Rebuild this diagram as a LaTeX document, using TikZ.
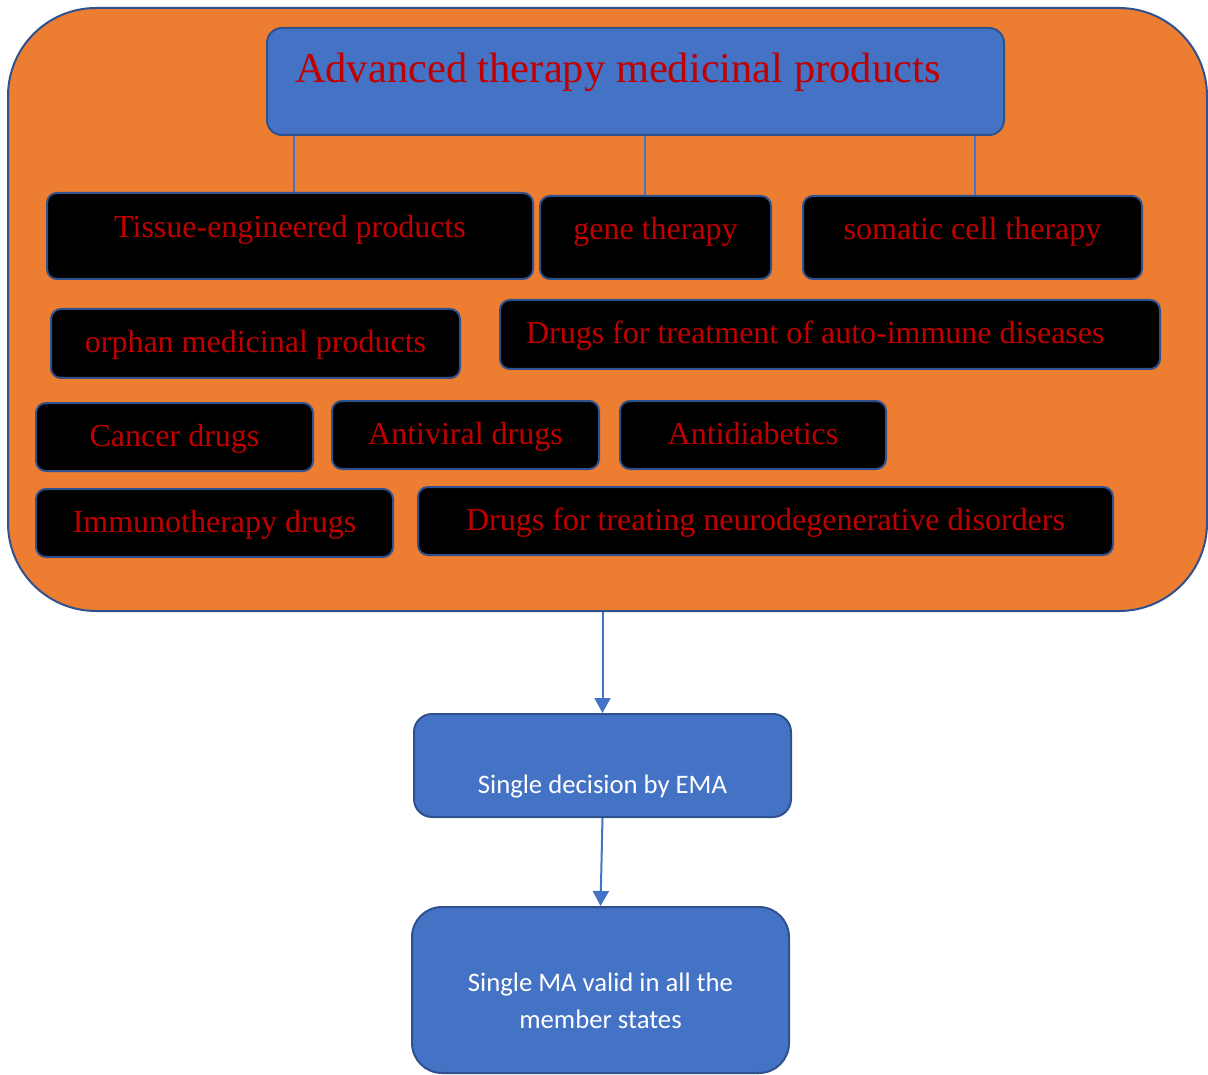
\documentclass[tikz,border=0pt]{standalone}
\usepackage{fontspec}
\setmainfont{Liberation Serif}
\newfontfamily\calibri{Carlito}
\usetikzlibrary{arrows.meta}
\definecolor{deeporange}{RGB}{237,125,49}
\definecolor{myblue}{RGB}{68,114,196}
\definecolor{darkblue}{RGB}{47,82,143}
\definecolor{darkred}{RGB}{192,0,0}
\tikzset{
  drugbox/.style={draw=darkblue,line width=2pt,fill=black,rounded corners=10pt,inner sep=0pt,
    text=darkred,font=\fontsize{32}{38}\selectfont,text height=24pt,text depth=6pt},
  toprow/.style={text height=20pt,text depth=16pt},
  flowbox/.style={draw=darkblue,line width=2pt,fill=myblue,inner sep=0pt,text=white,
    font=\calibri\fontsize{26.7}{37}\selectfont,align=center},
  tie/.style={myblue,line width=1.3pt},
  flow/.style={myblue,line width=2pt,-{Triangle[width=16pt,length=15pt]}}
}

\begin{document}
\begin{tikzpicture}[x=1pt,y=-1pt]
  \useasboundingbox (0,0) rectangle (1208,1075);
  % orange panel
  \node[draw=darkblue,line width=2pt,fill=deeporange,rounded corners=88pt,
    minimum width=1199pt,minimum height=603pt] (panel) at (607.5,309.5) {};
  \node[draw=darkblue,line width=2pt,fill=myblue,rounded corners=15pt,inner ysep=0pt,inner xsep=28pt,
    text=darkred,font=\fontsize{42.5}{50}\selectfont,
    text height=30pt,text depth=27pt,minimum height=107pt] (title) at (635.5,81.5)
    {\makebox[681pt][l]{Advanced therapy medicinal products}};
  % first row
  \node[drugbox,toprow,minimum width=486pt,minimum height=86pt] (tissue) at (290,236) {Tissue-engineered products};
  \node[drugbox,toprow,minimum width=231pt,minimum height=83pt] (gene) at (655.5,237.5) {gene therapy};
  \node[drugbox,toprow,minimum width=339pt,minimum height=83pt] (somatic) at (972.5,237.5) {somatic cell therapy};
  \coordinate (t1) at ([xshift=4pt]tissue.north);
  \coordinate (t2) at ([xshift=-10.5pt]gene.north);
  \coordinate (t3) at ([xshift=2.5pt]somatic.north);
  \foreach \t in {t1,t2,t3}
    \draw[tie] (\t |- title.south) -- (\t);
  % other drugs
  \node[drugbox,minimum width=409pt,minimum height=69pt] (orphan) at (255.5,343.5) {orphan medicinal products};
  \node[drugbox,minimum width=660pt,minimum height=69pt,inner xsep=26pt]
    (autoimm) at (830,334.5) {\makebox[608pt][l]{Drugs for treatment of auto-immune diseases}};
  \node[drugbox,minimum width=277pt,minimum height=68pt] (cancer) at (174.5,437) {Cancer drugs};
  \node[drugbox,minimum width=267pt,minimum height=68pt] (antiviral) at (465.5,435) {Antiviral drugs};
  \node[drugbox,minimum width=266pt,minimum height=68pt] (antidiab) at (753,435) {Antidiabetics};
  \node[drugbox,minimum width=357pt,minimum height=68pt] (immuno) at (214.5,523) {Immunotherapy drugs};
  \node[drugbox,minimum width=695pt,minimum height=68pt] (neuro) at (765.5,521) {Drugs for treating neurodegenerative disorders};
  % decision flow
  \node[flowbox,rounded corners=18pt,minimum width=377pt,minimum height=103pt,text height=60pt,text depth=4pt]
    (ema) at (602.5,765.5) {Single decision by EMA};
  \node[flowbox,rounded corners=30pt,minimum width=377pt,minimum height=166pt,text height=80pt,text depth=4pt]
    (ma) at (600.5,990) {Single MA valid in all the\\member states};
  \draw[flow] (panel.south -| ema.north) -- (ema.north);
  \draw[flow] (ema.south) -- (ma.north);
\end{tikzpicture}
\end{document}
